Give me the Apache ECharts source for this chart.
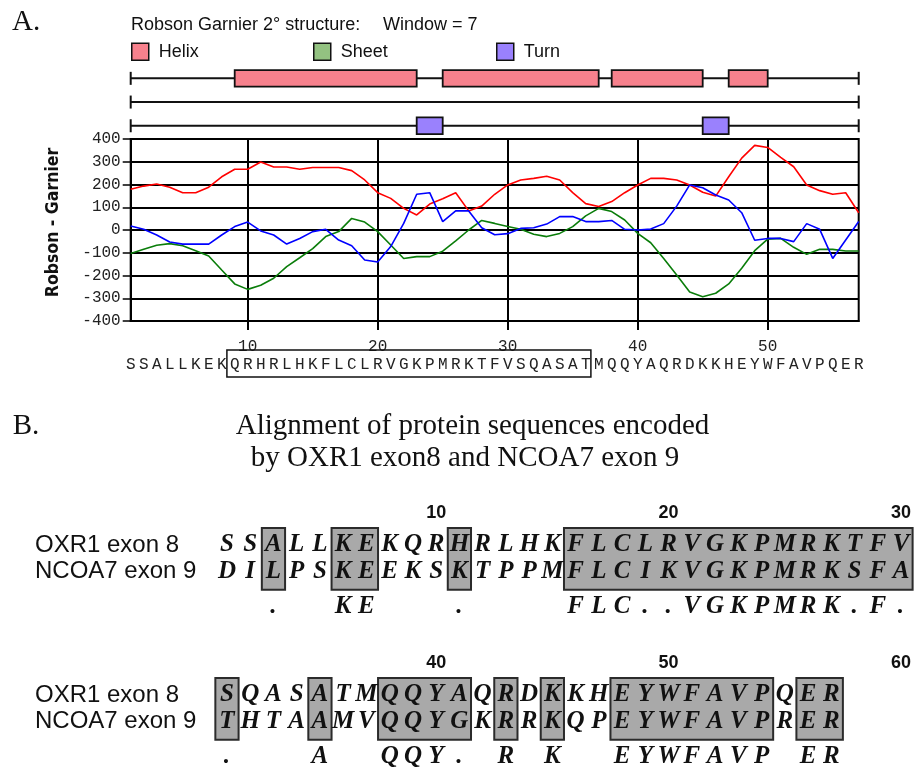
<!DOCTYPE html>
<html>
<head>
<meta charset="utf-8">
<script src="https://cdn.jsdelivr.net/npm/echarts@6/dist/echarts.min.js"></script>
<style>html,body{margin:0;padding:0;background:#fff}#c{width:914px;height:767px}</style>
</head>
<body>
<div id="c"></div>
<script>
// ---------- DATA ----------
const residues = 'SSALLKEKQRHRLHKFLCLRVGKPMRKTFVSQASATMQQYAQRDKKHEYWFAVPQER'.split('');
const positions = residues.map((_, i) => i + 1);
const helixValues = [179,193,202,188,164,164,188,234,267,267,299,277,277,267,275,275,275,261,220,164,139,95,66,114,137,164,84,105,157,198,220,227,236,220,164,116,103,125,164,198,227,227,220,198,166,149,234,316,372,363,319,278,198,173,157,164,76];
const sheetValues = [-103,-85,-67,-60,-69,-91,-114,-176,-237,-261,-243,-212,-161,-122,-82,-29,-7,51,35,-7,-66,-125,-117,-117,-93,-48,0,42,29,15,3,-19,-29,-15,15,62,95,81,44,-15,-56,-125,-198,-273,-293,-278,-237,-168,-91,-40,-37,-76,-107,-85,-85,-92,-92];
const turnValues = [18,3,-22,-53,-62,-62,-62,-22,15,35,-4,-22,-62,-37,-7,3,-44,-69,-132,-141,-73,29,157,164,37,84,84,10,-21,-16,7,10,26,59,59,37,37,42,3,0,4,28,105,198,186,154,132,76,-45,-37,-37,-51,28,3,-125,-44,37];
const yTicks = [-400, 400, 100];
const xTicks = [10, 20, 30, 40, 50];
const structureRows = ['Helix', 'Sheet', 'Turn'];
const helixSegments = [[9, 23], [25, 37], [38, 45], [47, 50]];
const sheetSegments = [];
const turnSegments = [[23, 25], [45, 47]];
const exonRange = [9, 36];

const rowNames = ['OXR1 exon 8', 'NCOA7 exon 9', ''];
const oxr1Seq = 'SSALLKEKQRHRLHKFLCLRVGKPMRKTFVSQASATMQQYAQRDKKHEYWFAVPQER';
const ncoa7Seq = 'DILPSKEEKSKTPPMFLCIKVGKPMRKSFATHTAAMVQQYGKRRKQPEYWFAVPRER';
const consensusSeq = '  .  KE   .    FLC..VGKPMRK.F..   A  QQY. R K  EYWFAVP ER';
const alignBoxes = [[3,3],[6,7],[11,11],[16,30],[31,31],[35,35],[38,41],[43,43],[45,45],[48,54],[56,57]];
const blockRanges = [[1, 30], [31, 60]];
const blockTickLabels = [[10, 20, 30], [40, 50, 60]];

// ---------- STYLE ----------
const MONO = '"Liberation Mono", "DejaVu Sans Mono", monospace';
const SANS = '"Liberation Sans", Arial, sans-serif';
const SERIF = '"Liberation Serif", "Times New Roman", serif';
const colors = { Helix: '#f7818d', Sheet: '#93c281', Turn: '#9a81fd' };

const chart = echarts.init(document.getElementById('c'), null, { renderer: 'canvas' });

function blockLetters(b) {
  const [s, e] = blockRanges[b];
  const out = [];
  for (let p = s; p <= Math.min(e, oxr1Seq.length); p++) {
    out.push([p, 0, oxr1Seq[p - 1]]);
    out.push([p, 1, ncoa7Seq[p - 1]]);
    if (consensusSeq[p - 1] !== ' ') out.push([p, 2, consensusSeq[p - 1]]);
  }
  return out;
}
function blockBoxes(b) {
  const [s, e] = blockRanges[b];
  return alignBoxes.filter(x => x[0] >= s && x[0] <= e).map(x => [x[0], 0, x[1]]);
}

function structRender(params, api) {
  const a = api.coord([api.value(0), api.value(1)]);
  const b = api.coord([api.value(2), api.value(1)]);
  return {
    type: 'rect',
    shape: { x: a[0], y: a[1] - 8.3, width: b[0] - a[0], height: 16.6 },
    style: { fill: api.visual('color'), stroke: '#111', lineWidth: 1.8 }
  };
}

const series = [];
// main lines
series.push({ name: 'helixLine', type: 'line', xAxisIndex: 0, yAxisIndex: 0, showSymbol: false, symbol: 'none',
  data: positions.map((p, i) => [p, helixValues[i]]), lineStyle: { color: '#ff0000', width: 1.6 }, itemStyle: { color: '#ff0000' }, z: 5 });
series.push({ name: 'sheetLine', type: 'line', xAxisIndex: 0, yAxisIndex: 0, showSymbol: false, symbol: 'none',
  data: positions.map((p, i) => [p, sheetValues[i]]), lineStyle: { color: '#0a7d0a', width: 1.6 }, itemStyle: { color: '#0a7d0a' }, z: 5 });
series.push({ name: 'turnLine', type: 'line', xAxisIndex: 0, yAxisIndex: 0, showSymbol: false, symbol: 'none',
  data: positions.map((p, i) => [p, turnValues[i]]), lineStyle: { color: '#0000ff', width: 1.6 }, itemStyle: { color: '#0000ff' }, z: 6 });
// exon box around sequence
series.push({ name: 'exon', type: 'custom', xAxisIndex: 0, yAxisIndex: 0, clip: false, silent: true,
  data: [[exonRange[0], yTicks[0], exonRange[1]]],
  renderItem: function (params, api) {
    const a = api.coord([api.value(0) - 0.6, api.value(1)]);
    const b = api.coord([api.value(2) + 0.4, api.value(1)]);
    return { type: 'rect', shape: { x: a[0], y: a[1] + 29, width: b[0] - a[0], height: 27 },
      style: { fill: 'none', stroke: '#111', lineWidth: 1.5 } };
  } });
// structure baselines
series.push({ name: 'baselines', type: 'custom', xAxisIndex: 2, yAxisIndex: 1, silent: true,
  data: structureRows.map((r, i) => [1, i, 57]),
  renderItem: function (params, api) {
    const a = api.coord([api.value(0), api.value(1)]);
    const b = api.coord([api.value(2), api.value(1)]);
    const st = { stroke: '#111', lineWidth: 2 };
    return { type: 'group', children: [
      { type: 'line', shape: { x1: a[0], y1: a[1], x2: b[0], y2: b[1] }, style: st },
      { type: 'line', shape: { x1: a[0], y1: a[1] - 6.5, x2: a[0], y2: a[1] + 6.5 }, style: st },
      { type: 'line', shape: { x1: b[0], y1: b[1] - 6.5, x2: b[0], y2: b[1] + 6.5 }, style: st }
    ] };
  } });
series.push({ name: 'Helix', type: 'custom', xAxisIndex: 2, yAxisIndex: 1, itemStyle: { color: colors.Helix, borderColor: '#111', borderWidth: 1.5 },
  data: helixSegments.map(s => [s[0], 0, s[1]]), renderItem: structRender, z: 3 });
series.push({ name: 'Sheet', type: 'custom', xAxisIndex: 2, yAxisIndex: 1, itemStyle: { color: colors.Sheet, borderColor: '#111', borderWidth: 1.5 },
  data: sheetSegments.map(s => [s[0], 1, s[1]]), renderItem: structRender, z: 3 });
series.push({ name: 'Turn', type: 'custom', xAxisIndex: 2, yAxisIndex: 1, itemStyle: { color: colors.Turn, borderColor: '#111', borderWidth: 1.5 },
  data: turnSegments.map(s => [s[0], 2, s[1]]), renderItem: structRender, z: 3 });

// alignment blocks
[0, 1].forEach(b => {
  const boxes = blockBoxes(b);
  series.push({ name: 'boxes' + b, type: 'custom', xAxisIndex: 3 + b, yAxisIndex: 2 + b, silent: true, clip: false,
    data: boxes,
    renderItem: function (params, api) {
      const a = api.coord([api.value(0) - 0.5, 0]);
      const c = api.coord([api.value(2) + 0.5, 1]);
      return { type: 'rect', shape: { x: a[0], y: a[1] - 17, width: c[0] - a[0], height: c[1] - a[1] + 35 },
        style: { fill: '#a9a9a9', stroke: '#2b2b2b', lineWidth: 2 } };
    }, z: 2 });
  const letters = blockLetters(b);
  series.push({ name: 'letters' + b, type: 'custom', xAxisIndex: 3 + b, yAxisIndex: 2 + b, silent: true, clip: false,
    data: letters.map(d => [d[0], d[1]]),
    renderItem: function (params, api) {
      const d = letters[params.dataIndex];
      const pt = api.coord([d[0], d[1]]);
      return { type: 'text', x: pt[0], y: pt[1] + (d[1] === 2 ? 8 : 0),
        style: { text: d[2], fill: '#111', font: 'italic bold 25px ' + SERIF, align: 'center', verticalAlign: 'middle' } };
    }, z: 4 });
});

const blackLine = { color: '#000', width: 2 };
const rowLabel = { interval: 0, align: 'left', margin: 180.35, fontFamily: SANS, fontSize: 24, color: '#111' };

const option = {
  backgroundColor: '#fff',
  animation: false,
  graphic: [
    { type: 'text', x: 12, y: 22, style: { text: 'A.', font: '29px ' + SERIF, fill: '#111', align: 'left', verticalAlign: 'middle' } },
    { type: 'text', x: 131, y: 25, style: { text: 'Robson Garnier 2\u00b0 structure:', font: '18px ' + SANS, fill: '#111', align: 'left', verticalAlign: 'middle' } },
    { type: 'text', x: 383, y: 25, style: { text: 'Window = 7', font: '18px ' + SANS, fill: '#111', align: 'left', verticalAlign: 'middle' } },
    { type: 'text', x: 12.7, y: 426, style: { text: 'B.', font: '29px ' + SERIF, fill: '#111', align: 'left', verticalAlign: 'middle' } },
    { type: 'text', x: 472.5, y: 426, style: { text: 'Alignment of protein sequences encoded', font: '29px ' + SERIF, fill: '#111', align: 'center', verticalAlign: 'middle' } },
    { type: 'text', x: 465, y: 458, style: { text: 'by OXR1 exon8 and NCOA7 exon 9', font: '29px ' + SERIF, fill: '#111', align: 'center', verticalAlign: 'middle' } }
  ],
  legend: structureRows.map((name, i) => ({
    data: [{ name: name, itemStyle: { color: colors[name], borderColor: '#111', borderWidth: 1.5 } }],
    left: [131, 313, 496][i], top: 42.5,
    icon: 'rect', itemWidth: 17, itemHeight: 17, itemGap: 0, selectedMode: false, padding: 0,
    textStyle: { fontSize: 18, fontFamily: SANS, color: '#111', padding: [0, 0, 0, 5] }
  })),
  grid: [
    { left: 130.7, top: 139, width: 728, height: 182, show: true, borderColor: '#000', borderWidth: 2, backgroundColor: 'transparent' },
    { left: 130.7, top: 66.5, width: 728, height: 71.1 },
    { left: 215.35, top: 531.65, width: 699, height: 80.1 },
    { left: 215.35, top: 681.65, width: 699, height: 80.1 }
  ],
  xAxis: [
    { type: 'value', gridIndex: 0, min: 1, max: 57,
      axisLine: { show: true, onZero: false, lineStyle: blackLine },
      axisTick: { show: true, customValues: xTicks, length: 9, lineStyle: blackLine },
      axisLabel: { customValues: xTicks, margin: 18, fontFamily: MONO, fontSize: 16, color: '#222' },
      splitLine: { show: true, lineStyle: blackLine } },
    { type: 'category', gridIndex: 0, data: residues, boundaryGap: false, position: 'bottom', offset: 28,
      axisLine: { show: false }, axisTick: { show: false }, splitLine: { show: false },
      axisLabel: { interval: 0, margin: 8, fontFamily: MONO, fontSize: 16, color: '#222', hideOverlap: false } },
    { type: 'value', gridIndex: 1, min: 1, max: 57, show: false },
    { type: 'value', gridIndex: 2, min: blockRanges[0][0] - 0.5, max: blockRanges[0][1] + 0.5, position: 'top',
      axisLine: { show: false }, axisTick: { show: false }, splitLine: { show: false },
      axisLabel: { customValues: blockTickLabels[0], margin: 10, fontFamily: SANS, fontWeight: 'bold', fontSize: 18, color: '#111' } },
    { type: 'value', gridIndex: 3, min: blockRanges[1][0] - 0.5, max: blockRanges[1][1] + 0.5, position: 'top',
      axisLine: { show: false }, axisTick: { show: false }, splitLine: { show: false },
      axisLabel: { customValues: blockTickLabels[1], margin: 10, fontFamily: SANS, fontWeight: 'bold', fontSize: 18, color: '#111' } }
  ],
  yAxis: [
    { type: 'value', gridIndex: 0, min: yTicks[0], max: yTicks[1], interval: yTicks[2],
      name: 'Robson - Garnier', nameLocation: 'middle', nameGap: 68, nameRotate: 90,
      nameTextStyle: { fontFamily: '"DejaVu Sans Condensed", "DejaVu Sans", sans-serif', fontWeight: 'bold', fontSize: 17.5, color: '#111', padding: [0, 0, 0, 15] },
      axisLine: { show: true, lineStyle: blackLine },
      axisTick: { show: true, length: 8, lineStyle: { color: '#000', width: 1.5 } },
      axisLabel: { margin: 10, fontFamily: MONO, fontSize: 16, color: '#222' },
      splitLine: { show: true, lineStyle: blackLine } },
    { type: 'category', gridIndex: 1, data: structureRows, inverse: true, show: false },
    { type: 'category', gridIndex: 2, data: rowNames, inverse: true,
      axisLine: { show: false }, axisTick: { show: false }, splitLine: { show: false }, axisLabel: rowLabel },
    { type: 'category', gridIndex: 3, data: rowNames, inverse: true,
      axisLine: { show: false }, axisTick: { show: false }, splitLine: { show: false }, axisLabel: rowLabel }
  ],
  series: series
};
chart.setOption(option);
</script>
</body>
</html>
